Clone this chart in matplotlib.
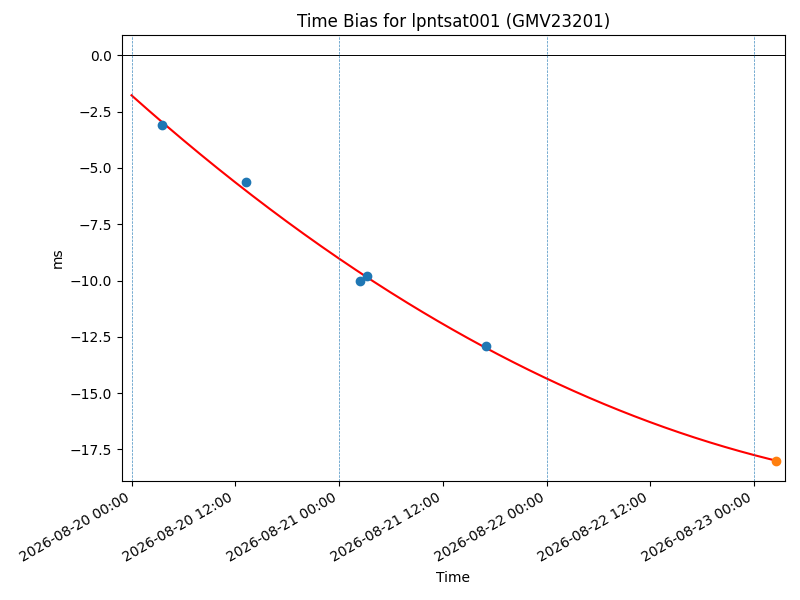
import matplotlib
matplotlib.use("Agg")
import matplotlib.pyplot as plt
import matplotlib.dates as mdates
import numpy as np
import pandas as pd

# Observed time-bias samples
obs_times = pd.to_datetime([
    "2026-08-20 03:30", "2026-08-20 13:15", "2026-08-21 02:25",
    "2026-08-21 03:15", "2026-08-21 17:00",
])
obs_values = [-3.11, -5.64, -10.02, -9.80, -12.90]

# Predicted point (end of fit)
pred_time = pd.to_datetime("2026-08-23 02:35")
pred_value = -18.0

# Fit curve start
fit_start = pd.to_datetime("2026-08-20 00:00")
fit_start_value = -1.78

# Day boundaries
day_lines = pd.to_datetime(["2026-08-20", "2026-08-21", "2026-08-22", "2026-08-23"])

t0 = fit_start
def days(t):
    return (pd.to_datetime(t) - t0) / pd.Timedelta(days=1)

fx = np.concatenate([[0.0], np.asarray(days(obs_times)), [days(pred_time)]])
fy = np.concatenate([[fit_start_value], obs_values, [pred_value]])
coef = np.polyfit(fx, fy, 2)
tt = np.linspace(0, days(pred_time), 300)
curve_times = t0 + pd.to_timedelta(tt, unit="D")
curve_vals = np.polyval(coef, tt)

fig, ax = plt.subplots(figsize=(8, 6), dpi=100)
ax.plot(curve_times, curve_vals, color="red", zorder=2)
ax.scatter(obs_times, obs_values, color="tab:blue", zorder=3)
ax.scatter([pred_time], [pred_value], color="tab:orange", zorder=3)
ax.axhline(0, color="black", linewidth=0.7)
for d in day_lines:
    ax.axvline(d, color="tab:blue", linestyle="--", linewidth=0.5, alpha=0.85)

ax.set_xlim(t0 - pd.Timedelta(hours=1.1), pred_time + pd.Timedelta(hours=1.0))
ax.xaxis.set_major_locator(mdates.HourLocator(byhour=[0, 12]))
ax.xaxis.set_major_formatter(mdates.DateFormatter("%Y-%m-%d %H:%M"))
ax.set_title("Time Bias for lpntsat001 (GMV23201)")
ax.set_xlabel("Time")
ax.set_ylabel("ms")
fig.autofmt_xdate()
fig.subplots_adjust(left=0.1525, right=0.98125, top=0.9417, bottom=0.1983)
fig.savefig("out.png")
